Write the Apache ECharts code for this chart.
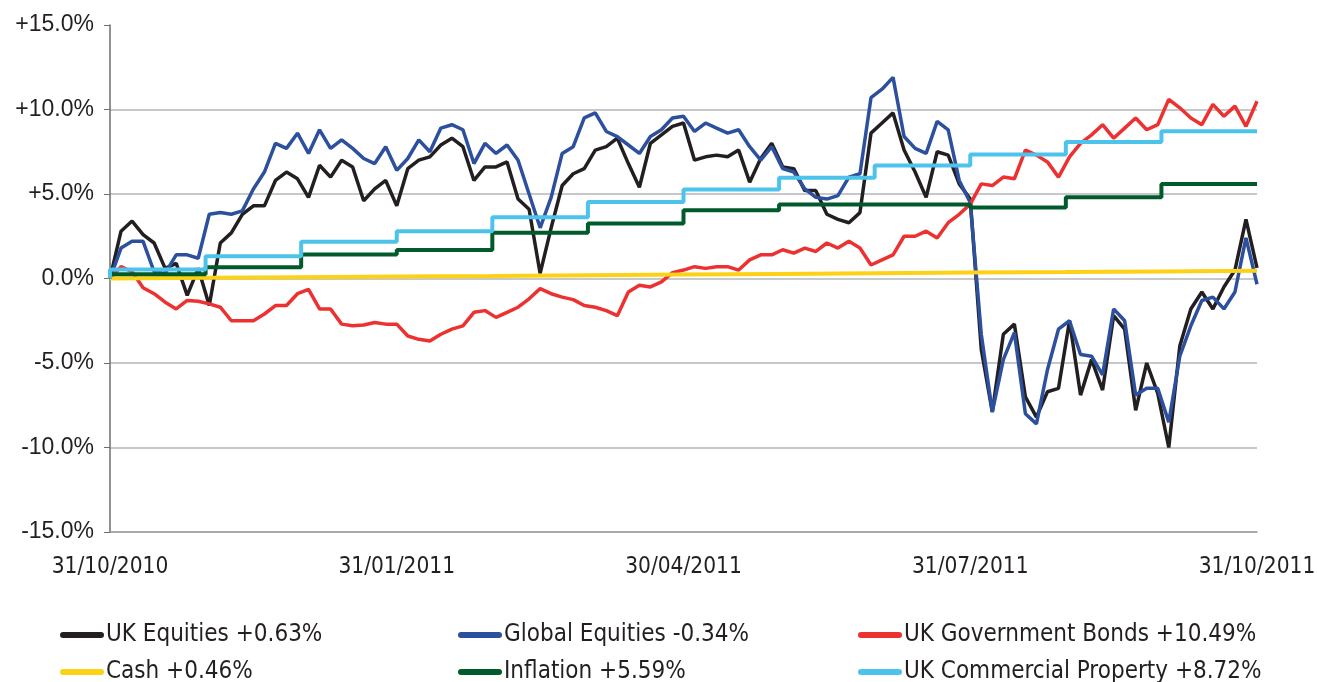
<!DOCTYPE html>
<html>
<head>
<meta charset="utf-8">
<title>Asset class returns</title>
<script src="https://cdn.jsdelivr.net/npm/echarts@6/dist/echarts.min.js"></script>
<style>
    html, body { margin: 0; padding: 0; background: #fff; }
    #chart { width: 1317px; height: 682px; }
</style>
</head>
<body>
<div id="chart"></div>
<script>
// ---------------------------------------------- data
// x axis tick labels (every 3 months)
var xTickLabels = ['31/10/2010', '31/01/2011', '30/04/2011', '31/07/2011', '31/10/2011'];

// equities / bonds, read roughly twice a week (105 samples over the year)
var ukEquities = [
    0, 2.8, 3.4, 2.6, 2.1, 0.6, 0.9, -1.0, 0.6, -1.6,
    2.1, 2.7, 3.8, 4.3, 4.3, 5.8, 6.3, 5.9, 4.8, 6.7,
    6.0, 7.0, 6.6, 4.6, 5.3, 5.8, 4.3, 6.5, 7.0, 7.2,
    7.9, 8.3, 7.8, 5.8, 6.6, 6.6, 6.9, 4.7, 4.1, 0.3,
    3.0, 5.5, 6.2, 6.5, 7.6, 7.8, 8.3, 6.8, 5.4, 8.0,
    8.5, 9.0, 9.2, 7.0, 7.2, 7.3, 7.2, 7.6, 5.7, 7.1,
    8.0, 6.6, 6.5, 5.2, 5.2, 3.8, 3.5, 3.3, 3.9, 8.6,
    9.2, 9.8, 7.6, 6.3, 4.8, 7.5, 7.3, 5.6, 4.7, -4.2,
    -7.9, -3.3, -2.7, -7.0, -8.2, -6.7, -6.5, -2.5, -6.9, -4.8,
    -6.6, -2.2, -3.0, -7.8, -5.0, -6.8, -10.0, -4.0, -1.8, -0.8,
    -1.8, -0.5, 0.5, 3.5, 0.63
];
var globalEquities = [
    0, 1.8, 2.2, 2.2, 0.4, 0.3, 1.4, 1.4, 1.2, 3.8,
    3.9, 3.8, 4.0, 5.3, 6.3, 8.0, 7.7, 8.6, 7.4, 8.8,
    7.7, 8.2, 7.7, 7.1, 6.8, 7.8, 6.4, 7.1, 8.2, 7.5,
    8.9, 9.1, 8.8, 6.8, 8.0, 7.4, 7.9, 7.0, 5.0, 3.0,
    4.8, 7.4, 7.8, 9.5, 9.8, 8.7, 8.4, 7.9, 7.4, 8.4,
    8.8, 9.5, 9.6, 8.7, 9.2, 8.9, 8.6, 8.8, 7.8, 7.0,
    7.8, 6.5, 6.3, 5.3, 4.8, 4.7, 4.9, 6.0, 6.2, 10.7,
    11.2, 11.9, 8.4, 7.7, 7.4, 9.3, 8.8, 5.8, 4.5, -3.3,
    -7.9, -4.8, -3.2, -8.0, -8.6, -5.4, -3.0, -2.5, -4.5, -4.6,
    -5.7, -1.8, -2.5, -6.9, -6.5, -6.5, -8.5, -4.6, -2.8, -1.3,
    -1.1, -1.8, -0.8, 2.4, -0.34
];
var govBonds = [
    0, 0.7, 0.4, -0.55, -0.9, -1.4, -1.8, -1.3, -1.35, -1.5,
    -1.7, -2.5, -2.5, -2.5, -2.1, -1.6, -1.6, -0.9, -0.65, -1.8,
    -1.8, -2.7, -2.8, -2.75, -2.6, -2.7, -2.7, -3.4, -3.6, -3.7,
    -3.3, -3.0, -2.8, -2.0, -1.9, -2.3, -2.0, -1.7, -1.2, -0.6,
    -0.9, -1.1, -1.25, -1.6, -1.7, -1.9, -2.2, -0.8, -0.4, -0.5,
    -0.2, 0.35, 0.5, 0.7, 0.6, 0.7, 0.7, 0.5, 1.1, 1.4,
    1.4, 1.7, 1.5, 1.8, 1.6, 2.1, 1.8, 2.2, 1.8, 0.8,
    1.1, 1.4, 2.5, 2.5, 2.8, 2.4, 3.3, 3.8, 4.4, 5.6,
    5.5, 6.0, 5.9, 7.6, 7.3, 6.9, 6.0, 7.2, 8.0, 8.5,
    9.1, 8.3, 8.9, 9.5, 8.8, 9.1, 10.6, 10.1, 9.5, 9.1,
    10.3, 9.6, 10.2, 9.0, 10.49
];

// monthly series (month 0 .. 12)
var cash = [0, 0.04, 0.08, 0.12, 0.15, 0.19, 0.23, 0.27, 0.31, 0.35, 0.38, 0.42, 0.46];
var inflation = [0, 0.25, 0.67, 1.42, 1.68, 2.7, 3.25, 4.04, 4.38, 4.38, 4.2, 4.81, 5.59];
var property = [0, 0.53, 1.32, 2.17, 2.8, 3.63, 4.52, 5.27, 5.96, 6.69, 7.34, 8.07, 8.72];

var names = [
    'UK Equities +0.63%', 'Global Equities -0.34%', 'UK Government Bonds +10.49%',
    'Cash +0.46%', 'Inflation +5.59%', 'UK Commercial Property +8.72%'
];
var colors = ['#231f20', '#2c4f9e', '#ec3130', '#fcd116', '#005a2b', '#4dc3ec'];

// ---------------------------------------------- helpers
// samples spread evenly over 12 months
function daily(arr) {
    return arr.map(function (v, i) { return [i * 12 / (arr.length - 1), v]; });
}
function monthly(arr) {
    return arr.map(function (v, i) { return [i, v]; });
}

var narrow = '"Liberation Sans Narrow", "DejaVu Sans Condensed", "Arial Narrow", sans-serif';
var capsule = 'path://M3,0 L41,0 A3,3 0 0 1 41,6 L3,6 A3,3 0 0 1 3,0 Z';

// one legend per item so the columns line up like the original
var legendPos = [[55, 618], [453, 618], [853, 618], [55, 655], [453, 655], [853, 655]];
var legends = legendPos.map(function (p, i) {
    return {
        data: [names[i]],
        left: p[0],
        top: p[1],
        icon: capsule,
        itemWidth: 44,
        itemHeight: 6,
        selectedMode: false,
        textStyle: { fontFamily: narrow, fontSize: 24, color: '#231f20', padding: [0, 0, 0, -3] }
    };
});

// ---------------------------------------------- chart
!function () {
    var myChart = echarts.init(document.getElementById('chart'));
    var option = {
        animation: false,
        color: colors,
        grid: {
            left: 110,
            right: 60,
            top: 25,
            bottom: 150,
            containLabel: false,
            outerBoundsMode: 'none'
        },
        legend: legends,
        xAxis: {
            type: 'value',
            min: 0,
            max: 12,
            interval: 3,
            axisLine: { onZero: false, lineStyle: { color: '#9d9fa2', width: 1.5 } },
            axisTick: { show: false },
            splitLine: { show: false },
            axisLabel: {
                margin: 24,
                fontFamily: narrow,
                fontSize: 22.5,
                color: '#231f20',
                formatter: function (v) { return xTickLabels[v / 3]; }
            }
        },
        yAxis: {
            type: 'value',
            min: -15,
            max: 15,
            interval: 5,
            axisLine: { show: true, lineStyle: { color: '#6d6e71', width: 1.5 } },
            axisTick: { show: true, length: 6, lineStyle: { color: '#6d6e71' } },
            splitLine: { show: true, showMaxLine: false, lineStyle: { color: '#b5b6b8', width: 1.5 } },
            axisLabel: {
                margin: 16,
                fontFamily: '"Liberation Sans", Arial, sans-serif',
                fontSize: 23,
                color: '#231f20',
                formatter: function (v) { return (v > 0 ? '+' : '') + v.toFixed(1) + '%'; }
            }
        },
        series: [
            { name: names[0], type: 'line', data: daily(ukEquities), showSymbol: false, lineStyle: { width: 3.5 } },
            { name: names[1], type: 'line', data: daily(globalEquities), showSymbol: false, lineStyle: { width: 3.5 } },
            { name: names[2], type: 'line', data: daily(govBonds), showSymbol: false, lineStyle: { width: 3.5 } },
            { name: names[3], type: 'line', data: monthly(cash), showSymbol: false, lineStyle: { width: 4 } },
            { name: names[4], type: 'line', data: monthly(inflation), step: 'start', showSymbol: false, lineStyle: { width: 4 } },
            { name: names[5], type: 'line', data: monthly(property), step: 'start', showSymbol: false, lineStyle: { width: 4 } }
        ]
    };
    myChart.setOption(option);
}();
</script>
</body>
</html>
